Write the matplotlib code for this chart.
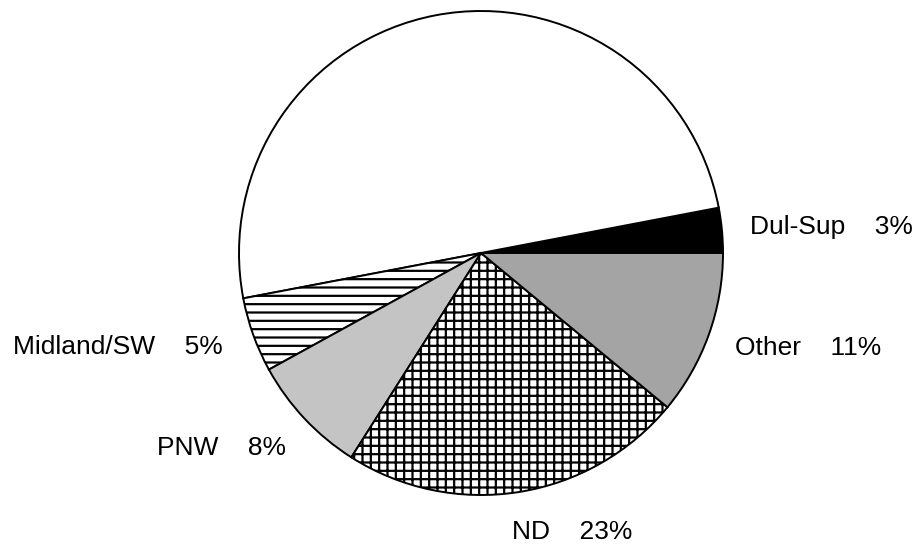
import matplotlib
matplotlib.use("Agg")
import matplotlib.pyplot as plt

# ---------- data ----------
regions = ["Dul-Sup", "", "Midland/SW", "PNW", "ND", "Other"]
shares = [3, 50, 5, 8, 23, 11]
fills = ["black", "white", "white", "#c4c4c4", "white", "#a4a4a4"]
hatches = [None, None, "--", None, "++", None]

# label anchors (left edge, centre y) in pixel space
label_x = [750, None, 13, 157, 512, 735]
label_y = [227, None, 347, 448, 532, 348]

W, H = 917, 546
plt.rcParams["font.family"] = ["Liberation Sans", "DejaVu Sans"]
plt.rcParams["hatch.linewidth"] = 1.6

fig = plt.figure(figsize=(W / 100, H / 100), dpi=100)
ax = fig.add_axes([0, 0, 1, 1])

wedges, _ = ax.pie(shares, colors=fills, startangle=0, counterclock=True,
                   center=(481, H - 253), radius=242, frame=True,
                   wedgeprops=dict(edgecolor="black", linewidth=1.4))
for w, h in zip(wedges, hatches):
    if h:
        w.set_hatch(h)
ax.set_xlim(0, W)
ax.set_ylim(0, H)
ax.set_aspect("equal")
ax.axis("off")

for name, pct, x, y in zip(regions, shares, label_x, label_y):
    if not name:
        continue
    ax.text(x, H - y, f"{name}    {pct}%", fontsize=19, ha="left", va="center")

fig.savefig("out.png", dpi=100, facecolor="white")
